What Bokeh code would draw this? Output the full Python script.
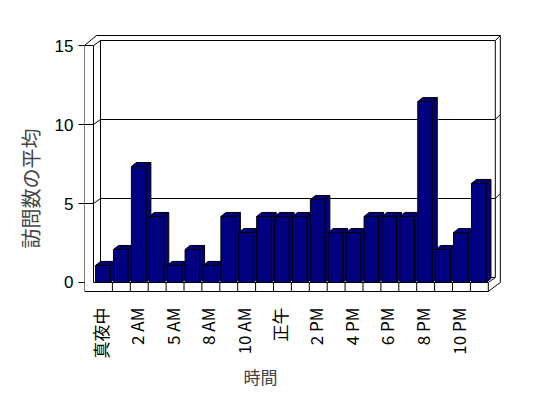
from bokeh.plotting import figure
from bokeh.models import FixedTicker, Title, ColumnDataSource, Range1d
from bokeh.embed import file_html
from bokeh.resources import INLINE

# ---- data ----
hours = ["真夜中", "1 AM", "2 AM", "4 AM", "5 AM", "7 AM", "8 AM", "9 AM", "10 AM", "11 AM",
         "正午", "1 PM", "2 PM", "3 PM", "4 PM", "5 PM", "6 PM", "7 PM", "8 PM", "9 PM",
         "10 PM", "11 PM"]
visits = [1.08, 2.09, 7.34, 4.18, 1.08, 2.09, 1.08, 4.18, 3.16, 4.18, 4.18,
          4.18, 5.25, 3.16, 3.16, 4.18, 4.18, 4.18, 11.45, 2.09, 3.16, 6.27]
shown_ticks = [0, 2, 4, 6, 8, 10, 12, 14, 16, 18, 20]
y_ticks = [0, 5, 10, 15]
y_title = "訪問数の平均"
x_title = "時間"

# ---- styling / geometry constants (pixels per data unit) ----
PX, PY = 17.9, 15.8
def dx(px): return px / PX
def dy(px): return px / PY

N = len(hours)
YMAX = 15
NAVY = "#000080"
LABEL_SHIFT = -0.17

p = figure(width=540, height=396, output_backend="svg", toolbar_location=None,
           x_range=Range1d(-1.059, 22.461), y_range=Range1d(-0.633, 15.95),
           min_border_left=84, min_border_right=35, min_border_top=30, min_border_bottom=104)
p.xgrid.visible = False
p.ygrid.visible = False
p.outline_line_color = None
p.background_fill_color = "white"
p.border_fill_color = "white"

# wall/floor geometry
xa = -0.5 - dx(1)          # inner front edge of left wall
xo = xa - dx(9)            # outer front edge of left wall
xr = N - 0.5               # right end of floor front
fb = -dy(9)                # floor bottom
Dx, Dy = dx(7), dy(5)      # depth of chart box
Tx, Ty = dx(5), dy(5)      # wall thickness

outer_x = [xo, xo + dx(12), xr + Dx + Tx, xr + Dx + Tx, xr, xo]
outer_y = [YMAX, YMAX + dy(10), YMAX + dy(10), 0, fb, fb]
p.patch(outer_x, outer_y, fill_color="white", line_color="black", line_width=1)

segs = [
    ((xo, YMAX), (xa, YMAX)),
    ((xa, YMAX), (xa, 0)),
    ((xa, 0), (xr, 0)),
    ((xr, 0), (xr, fb)),
    ((xa, YMAX), (xa + Dx, YMAX + Dy)),
    ((xa + Dx, YMAX + Dy), (xa + Dx, Dy)),
    ((xa + Dx, Dy), (xr + Dx, Dy)),
    ((xa + Dx, YMAX + Dy), (xr + Dx, YMAX + Dy)),
    ((xr + Dx, YMAX + Dy), (xr + Dx, Dy)),
    ((xr, 0), (xr + Dx, Dy)),
    ((xr + Dx, YMAX + Dy), (xr + Dx + Tx, YMAX + Dy + Ty)),
]
for v in y_ticks[1:-1]:
    segs += [
        ((xo, v), (xa, v)),
        ((xa, v), (xa + Dx, v + Dy)),
        ((xa + Dx, v + Dy), (xr + Dx, v + Dy)),
        ((xr + Dx, v + Dy), (xr + Dx + Tx, v + Dy + Ty)),
    ]
for k in range(1, N):
    segs.append(((k - 0.5, 0), (k - 0.5, fb)))
p.multi_line([[s[0][0], s[1][0]] for s in segs], [[s[0][1], s[1][1]] for s in segs],
             line_color="black", line_width=1)

# ---- bars ----
bx, by = dx(5), dy(4)
xs_i = list(range(N))
left = [i - 0.44 for i in xs_i]
right = [i + 0.37 for i in xs_i]
side_xs = [[r, r + bx, r + bx, r] for r in right]
side_ys = [[v, v + by, by, 0] for v in visits]
top_xs = [[l, r, r + bx, l + bx] for l, r in zip(left, right)]
top_ys = [[v, v, v + by, v + by] for v in visits]
p.patches(side_xs, side_ys, fill_color=NAVY, line_color="black", line_width=1)
p.patches(top_xs, top_ys, fill_color=NAVY, line_color="black", line_width=1)
src = ColumnDataSource(dict(left=left, right=right, top=visits, bottom=[0] * N))
p.quad(left="left", right="right", top="top", bottom="bottom", source=src,
       fill_color=NAVY, line_color="black", line_width=1)

# ---- axes ----
tick_pos = [round(t + LABEL_SHIFT, 2) for t in shown_ticks]
xa_ax = p.xaxis[0]
xa_ax.ticker = FixedTicker(ticks=tick_pos)
xa_ax.major_label_overrides = {tp: hours[t] for tp, t in zip(tick_pos, shown_ticks)}
xa_ax.major_label_orientation = 3.14159265 / 2
xa_ax.axis_line_color = None
xa_ax.major_tick_line_color = None
xa_ax.minor_tick_line_color = None
xa_ax.major_label_standoff = 9
xa_ax.major_label_text_font = "Noto Sans CJK JP"
xa_ax.major_label_text_font_size = "17px"
xa_ax.major_label_text_color = "black"

ya_ax = p.yaxis[0]
ya_ax.ticker = FixedTicker(ticks=y_ticks)
ya_ax.axis_line_color = None
ya_ax.major_tick_in = 0
ya_ax.major_tick_out = 6
ya_ax.major_tick_line_color = "black"
ya_ax.minor_tick_line_color = None
ya_ax.major_label_standoff = 5
ya_ax.major_label_text_font = "Liberation Sans"
ya_ax.major_label_text_font_size = "17px"
ya_ax.major_label_text_color = "black"

p.add_layout(Title(text=x_title, align="left", offset=159, text_font="Noto Sans CJK JP",
                   text_font_size="17px", text_font_style="normal", standoff=0), "below")
p.add_layout(Title(text=y_title, align="left", offset=44, text_font="Noto Sans CJK JP",
                   text_font_size="20px", text_font_style="normal", standoff=14), "left")

open("out.html", "w").write(file_html(p, INLINE))
